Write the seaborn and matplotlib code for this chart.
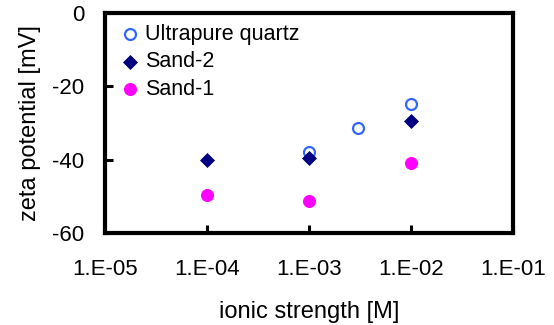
import matplotlib
matplotlib.use("Agg")
import matplotlib.pyplot as plt
import seaborn as sns
from matplotlib.ticker import FixedLocator, NullLocator

sns.set_style("white")
plt.rcParams['font.family'] = ['Liberation Sans', 'DejaVu Sans']
plt.rcParams['text.color'] = 'black'
plt.rcParams['axes.labelcolor'] = 'black'
plt.rcParams['xtick.color'] = 'black'
plt.rcParams['ytick.color'] = 'black'

quartz_x = [1e-3, 3e-3, 1e-2]
quartz_y = [-37.8, -31.3, -24.7]
sand2_x = [1e-4, 1e-3, 1e-2]
sand2_y = [-40.1, -39.6, -29.4]
sand1_x = [1e-4, 1e-3, 1e-2]
sand1_y = [-49.5, -51.2, -41.0]

xticks = [1e-5, 1e-4, 1e-3, 1e-2, 1e-1]
xticklabels = ["1.E-05", "1.E-04", "1.E-03", "1.E-02", "1.E-01"]
yticks = [0, -20, -40, -60]

fig = plt.figure(figsize=(5.54, 3.25), dpi=100)
ax = fig.add_axes([0.19, 0.283, 0.736, 0.677])

sns.scatterplot(x=quartz_x, y=quartz_y, ax=ax, marker='o', s=62,
                facecolor='white', edgecolor='#3366FF', linewidth=1.6,
                label='Ultrapure quartz', zorder=3)
sns.scatterplot(x=sand2_x, y=sand2_y, ax=ax, marker='D', s=50,
                color='#000080', edgecolor='#000080', label='Sand-2', zorder=4)
sns.scatterplot(x=sand1_x, y=sand1_y, ax=ax, marker='o', s=75,
                color='#FF00FF', edgecolor='#FF00FF', label='Sand-1', zorder=4)

ax.set_xscale('log')
ax.set_xlim(1e-5, 1e-1)
ax.set_ylim(-60, 0)
ax.xaxis.set_major_locator(FixedLocator(xticks))
ax.xaxis.set_minor_locator(NullLocator())
ax.set_xticklabels(xticklabels)
ax.set_yticks(yticks)
ax.set_yticklabels([str(v) for v in yticks])

for sp in ax.spines.values():
    sp.set_linewidth(3.0)
    sp.set_color('black')
ax.tick_params(axis='both', direction='in', length=6, width=2.2,
               labelsize=16, bottom=True, left=True, colors='black')
ax.tick_params(axis='x', pad=19)
ax.tick_params(axis='y', pad=15)

ax.set_xlabel('ionic strength [M]', fontsize=17, labelpad=15, color='black')
ax.set_ylabel('zeta potential [mV]', fontsize=17, labelpad=8, color='black')

leg = ax.legend(loc='upper left', frameon=False, fontsize=15.5,
                handletextpad=0.05, borderaxespad=0.2, labelspacing=0.3,
                handlelength=1.3, borderpad=0.3)
for t in leg.get_texts():
    t.set_color('black')

fig.savefig('out.png', dpi=100)
